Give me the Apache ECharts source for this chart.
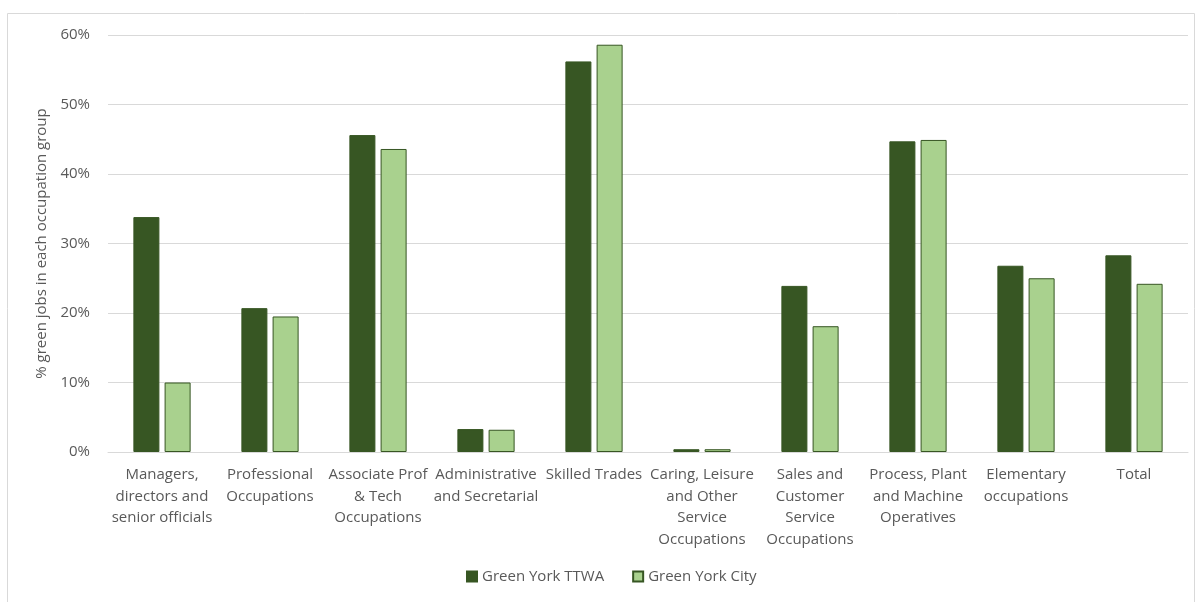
<!DOCTYPE html>
<html><head><meta charset="utf-8">
<script src="https://cdn.jsdelivr.net/npm/echarts@6/dist/echarts.min.js"></script>
<style>html,body{margin:0;padding:0;background:#fff}#c{width:1203px;height:602px}</style>
</head><body><div id="c"></div>
<script>
const categories = [
  "Managers,\ndirectors and\nsenior officials",
  "Professional\nOccupations",
  "Associate Prof\n& Tech\nOccupations",
  "Administrative\nand Secretarial",
  "Skilled Trades",
  "Caring, Leisure\nand Other\nService\nOccupations",
  "Sales and\nCustomer\nService\nOccupations",
  "Process, Plant\nand Machine\nOperatives",
  "Elementary\noccupations",
  "Total"
];
const ttwa = [33.8, 20.7, 45.6, 3.3, 56.2, 0.4, 23.9, 44.7, 26.8, 28.3];
const city = [10.0, 19.5, 43.6, 3.2, 58.6, 0.4, 18.1, 44.9, 25.0, 24.2];
const yTicks = [0, 10, 20, 30, 40, 50, 60];

const font = "Open Sans";
const fs = 15;
const chart = echarts.init(document.getElementById('c'));
chart.setOption({
  animation: false,
  textStyle: {fontFamily: font},
  graphic: [{type:'rect', shape:{x:7.5,y:13.5,width:1187,height:600}, style:{fill:'none', stroke:'#d9d9d9', lineWidth:1}, silent:true}],
  grid: {left:108, right:15, top:35, bottom:150},
  legend: {
    bottom: 13, left: 461, itemWidth: 10, itemHeight: 10, itemGap: 28, icon: 'rect',
    textStyle: {fontFamily: font, fontSize: fs, color: '#595959'},
    data: ['Green York TTWA', 'Green York City']
  },
  xAxis: {
    type: 'category', data: categories,
    axisLine: {lineStyle: {color: '#d9d9d9'}},
    axisTick: {show: false},
    axisLabel: {interval: 0, color: '#595959', fontSize: fs, lineHeight: 21.5, margin: 12, fontFamily: font}
  },
  yAxis: {
    type: 'value', min: 0, max: 60, interval: 10,
    name: '% green jobs in each occupation group', nameLocation: 'middle', nameGap: 57,
    nameTextStyle: {color: '#595959', fontSize: fs, fontFamily: font},
    axisLabel: {color: '#595959', fontSize: fs, margin: 18, fontFamily: font,
      formatter: v => yTicks.includes(v) ? v + '%' : ''},
    splitLine: {lineStyle: {color: '#d9d9d9'}},
    axisLine: {show: false}, axisTick: {show: false}
  },
  series: [
    {name: 'Green York TTWA', type: 'bar', data: ttwa, barGap: '20%', barCategoryGap: '47%',
      itemStyle: {color: '#375623', borderColor: '#375623', borderWidth: 1}},
    {name: 'Green York City', type: 'bar', data: city,
      itemStyle: {color: '#a9d18e', borderColor: '#375623', borderWidth: 1}}
  ]
});
</script></body></html>
